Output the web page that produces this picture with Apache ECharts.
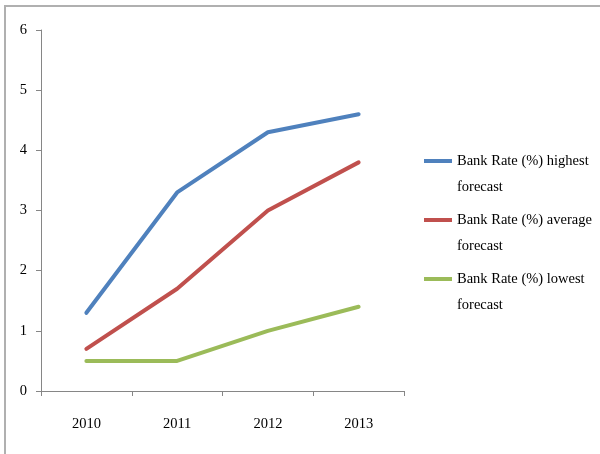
<!DOCTYPE html>
<html>
<head>
<meta charset="utf-8">
<script src="https://cdn.jsdelivr.net/npm/echarts@6/dist/echarts.min.js"></script>
<style>
html,body{margin:0;padding:0;background:#fff;}
#chart{width:600px;height:454px;}
</style>
</head>
<body>
<div id="chart"></div>
<script>
const categories = ['2010', '2011', '2012', '2013'];
const highest = [1.3, 3.3, 4.3, 4.6];
const average = [0.7, 1.7, 3.0, 3.8];
const lowest = [0.5, 0.5, 1.0, 1.4];
const seriesNames = ['Bank Rate (%) highest forecast', 'Bank Rate (%) average forecast', 'Bank Rate (%) lowest forecast'];
const colors = ['#4F81BD', '#C0504D', '#9BBB59'];

const font = 'Liberation Serif';
const chart = echarts.init(document.getElementById('chart'));
const legendTops = [122, 181, 240];
const LH = 26;

function mkSeries(name, data, color) {
  return {
    name: name, type: 'line', data: data, symbol: 'none',
    lineStyle: { color: color, width: 4, cap: 'round', join: 'round' },
    itemStyle: { color: color }
  };
}

chart.setOption({
  animation: false,
  color: colors,
  graphic: [{
    type: 'rect', shape: { x: 5, y: 6, width: 700, height: 600 },
    style: { fill: 'none', stroke: '#b0b0b0', lineWidth: 2 }, silent: true
  }],
  grid: { left: 41, top: 30, right: 196, bottom: 63 },
  legend: seriesNames.map((n, i) => ({
    data: [n], orient: 'vertical', left: 424, top: legendTops[i], padding: 0,
    icon: 'rect', itemWidth: 28, itemHeight: 4,
    formatter: s => ' \n' + s.replace(' forecast', '\nforecast'),
    textStyle: { fontFamily: font, fontSize: 14.5, color: '#000', lineHeight: LH }
  })),
  xAxis: {
    type: 'category', data: categories, boundaryGap: true,
    axisLine: { lineStyle: { color: '#868686', width: 1 } },
    axisTick: { show: true, length: 5, alignWithLabel: false, lineStyle: { color: '#868686' } },
    axisLabel: { fontFamily: font, fontSize: 14.5, color: '#000', margin: 26 },
    splitLine: { show: false }
  },
  yAxis: {
    type: 'value', min: 0, max: 6, interval: 1,
    axisLine: { show: true, lineStyle: { color: '#868686', width: 1 } },
    axisTick: { show: true, length: 5, lineStyle: { color: '#868686' } },
    axisLabel: { fontFamily: font, fontSize: 14.5, color: '#000', margin: 14 },
    splitLine: { show: false }
  },
  series: [
    mkSeries(seriesNames[0], highest, colors[0]),
    mkSeries(seriesNames[1], average, colors[1]),
    mkSeries(seriesNames[2], lowest, colors[2])
  ]
});
</script>
</body>
</html>
